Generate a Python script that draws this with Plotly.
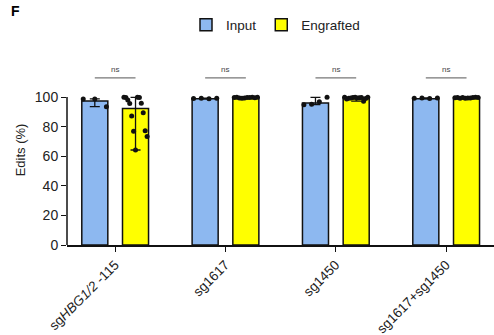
import plotly.graph_objects as go

categories = ["sg<i>HBG1/2</i> -115", "sg1617", "sg1450", "sg1617+sg1450"]
input_mean = [97.3, 98.9, 96.0, 98.9]
engrafted_mean = [92.3, 99.5, 99.3, 99.3]
input_points = [
    [98.7, 98.6, 93.5],
    [99.0, 99.2, 98.8, 99.1],
    [94.8, 99.8, 96.8, 95.2],
    [99.2, 99.4, 99.0, 99.3],
]
engrafted_points = [
    [99.8, 99.8, 99.7, 99.6, 98.0, 95.8, 95.6, 89.4, 87.2, 77.2, 76.8, 73.4, 64.2],
    [99.6, 99.8, 99.3, 99.9, 99.5, 99.7, 99.4, 99.8, 99.6, 99.2],
    [99.8, 99.5, 99.1, 97.2, 99.6, 99.9, 99.3, 98.6, 99.7, 99.4, 99.0, 99.8],
    [99.5, 99.7, 99.2, 99.6, 99.8, 99.4, 99.1, 99.6, 99.3, 99.7],
]
sig_labels = ["ns", "ns", "ns", "ns"]
y_ticks = [0, 20, 40, 60, 80, 100]

BLUE = "#8db8f0"
YELLOW = "#ffff00"
W = 0.236
OFF = [-0.183, 0.186]
xs = list(range(len(categories)))

fig = go.Figure()

def add_group(means, points, color, name, off):
    plus = [max(p) - m for p, m in zip(points, means)]
    minus = [m - min(p) for p, m in zip(points, means)]
    fig.add_trace(go.Bar(
        x=xs, y=means, name=name, width=W, offset=off - W / 2,
        marker=dict(color=color, line=dict(color="#111", width=1.5)),
        error_y=dict(type="data", symmetric=False, array=plus, arrayminus=minus,
                     color="#111", thickness=1.3, width=5),
    ))
    px, py = [], []
    for i, pts in enumerate(points):
        n = len(pts)
        for j, v in enumerate(pts):
            d = 0 if n == 1 else -0.105 + 0.21 * ((j * 7) % n) / (n - 1)
            px.append(i + off + d)
            py.append(v)
    fig.add_trace(go.Scatter(x=px, y=py, mode="markers", showlegend=False,
                             marker=dict(color="#111", size=5), cliponaxis=False,
                             hoverinfo="skip"))

add_group(input_mean, input_points, BLUE, "Input", OFF[0])
add_group(engrafted_mean, engrafted_points, YELLOW, "Engrafted", OFF[1])

TOP = 55
H = 190
shapes = [dict(type="line", xref="paper", yref="y", x0=0, x1=0, y0=0, y1=100,
               line=dict(color="#111", width=1.5))]
annotations = []
for i, lab in enumerate(sig_labels):
    shapes.append(dict(type="line", xref="x", yref="y", x0=i + OFF[0], x1=i + OFF[1],
                       y0=113, y1=113, line=dict(color="#777", width=1.2)))
    annotations.append(dict(x=i, y=114, xref="x", yref="y", text=lab, showarrow=False,
                            yanchor="bottom", font=dict(size=8, color="#444")))
annotations.append(dict(x=-67 / 427, y=1 + (TOP - 1) / H, xref="paper", yref="paper",
                        text="<b>F</b>", showarrow=False, xanchor="left", yanchor="top",
                        xshift=9, font=dict(size=14, color="#000")))

fig.update_layout(
    width=494, height=335,
    margin=dict(l=67, r=0, t=TOP, b=335 - TOP - H, autoexpand=False),
    paper_bgcolor="white", plot_bgcolor="white",
    font=dict(family="Liberation Sans, Arial, sans-serif", color="#222"),
    barmode="overlay",
    showlegend=True,
    legend=dict(orientation="h", x=(186 - 67) / 427, y=1 + (TOP - 25) / H,
                xanchor="left", yanchor="middle", font=dict(size=13.5),
                itemwidth=30, tracegroupgap=0),
    shapes=shapes, annotations=annotations,
    xaxis=dict(range=[-0.435, 3.435], tickvals=xs, ticktext=categories, automargin=False,
               tickangle=-45, ticks="outside", ticklen=5, tickwidth=1.3, tickcolor="#111",
               showline=True, linecolor="#111", linewidth=1.5, showgrid=False,
               zeroline=False, tickfont=dict(size=13.5, color="#222")),
    yaxis=dict(range=[0, 128.4], tickvals=y_ticks, ticks="outside", ticklen=5, automargin=False,
               tickwidth=1.3, tickcolor="#111", showline=False, showgrid=False,
               zeroline=False, tickfont=dict(size=14, color="#222"),
               title=dict(text="Edits (%)", font=dict(size=13), standoff=6)),
)

fig.write_html("out.html", config={"displayModeBar": False},
               post_script="document.body.style.margin='0px';")
